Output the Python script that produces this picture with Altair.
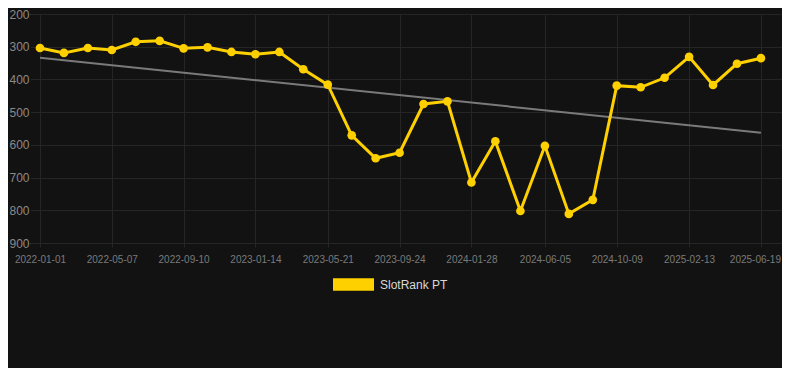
import altair as alt

# ---- data ----
dates = [
    "2022-01-01", "2022-02-12", "2022-03-26", "2022-05-07", "2022-06-18",
    "2022-07-30", "2022-09-10", "2022-10-22", "2022-12-03", "2023-01-14",
    "2023-02-25", "2023-04-08", "2023-05-21", "2023-07-02", "2023-08-13",
    "2023-09-24", "2023-11-05", "2023-12-17", "2024-01-28", "2024-03-10",
    "2024-04-23", "2024-06-05", "2024-07-17", "2024-08-28", "2024-10-09",
    "2024-11-20", "2025-01-01", "2025-02-13", "2025-03-27", "2025-05-08",
    "2025-06-19",
]
ranks = [
    304, 319, 304, 310, 285, 282, 305, 302, 316, 323,
    316, 369, 416, 571, 641, 624, 475, 467, 715, 589,
    802, 603, 811, 768, 419, 424, 395, 331, 417, 352,
    335,
]
series_name = "SlotRank PT"
tick_labels = [
    "2022-01-01", "2022-05-07", "2022-09-10", "2023-01-14", "2023-05-21",
    "2023-09-24", "2024-01-28", "2024-06-05", "2024-10-09", "2025-02-13",
    "2025-06-19",
]
y_ticks = [200, 300, 400, 500, 600, 700, 800, 900]

YELLOW = "#FFD000"
BG = "#121212"
GRID = "#252525"


def to_dt(s, hours=0):
    y, m, d = (int(p) for p in s.split("-"))
    return alt.DateTime(year=y, month=m, date=d, hours=hours, utc=True)


rows = [{"date": d, "rank": r, "series": series_name} for d, r in zip(dates, ranks)]
data = alt.Data(values=rows, format=alt.JsonDataFormat(parse={"date": "date"}))

x_enc = alt.X(
    "date:T",
    title=None,
    scale=alt.Scale(type="utc", domain=[to_dt("2021-12-14", 12), to_dt("2025-07-26")]),
    axis=alt.Axis(
        values=[to_dt(t) for t in tick_labels],
        format="%Y-%m-%d",
        labelColor="#7a7a7a",
        labelFontSize=10,
        labelPadding=7,
        labelOffset=alt.ConditionalAxisNumber(
            condition={"test": "utcyear(datum.value) == 2025 && utcmonth(datum.value) == 5", "value": -6},
            value=0,
        ),
        ticks=True,
        tickSize=4,
        tickColor=GRID,
        domain=False,
        grid=True,
        gridColor=GRID,
        labelFlush=False,
    ),
)
y_enc = alt.Y(
    "rank:Q",
    title=None,
    scale=alt.Scale(domain=[200, 900], reverse=True, nice=False, zero=False),
    axis=alt.Axis(
        values=y_ticks,
        labelColor="#8a8a8a",
        labelFontSize=12,
        labelPadding=1,
        ticks=False,
        domain=True,
        domainColor=BG,
        grid=True,
        gridColor=GRID,
    ),
)

base = alt.Chart(data)

trend = base.transform_regression("date", "rank").mark_line(
    color="#7a7a7a", strokeWidth=2
).encode(x=x_enc, y=y_enc)

line = base.mark_line(strokeWidth=3).encode(
    x=x_enc,
    y=y_enc,
    color=alt.Color(
        "series:N",
        scale=alt.Scale(range=[YELLOW]),
        legend=alt.Legend(
            title=None,
            orient="none",
            legendX=303,
            legendY=250,
            symbolType="M-1,-0.3L1,-0.3L1,0.3L-1,0.3Z",
            symbolSize=1681,
            symbolFillColor=YELLOW,
            symbolStrokeWidth=0,
            labelColor="#d9d9d9",
            labelFontSize=12,
            labelOffset=6,
            padding=0,
        ),
    ),
)

points = base.mark_circle(size=75, opacity=1, color=YELLOW).encode(x=x_enc, y=y_enc)

chart = (
    alt.layer(trend, line, points)
    .properties(
        width=752,
        height=229,
        background=BG,
        autosize=alt.AutoSizeParams(type="none"),
        padding={"left": 22, "top": 6, "right": 0, "bottom": 125},
    )
    .configure_view(stroke="transparent", strokeWidth=0, fill=BG)
    .configure(font="Arial")
)

chart.save("out.html", embed_options={"renderer": "svg", "actions": False})
